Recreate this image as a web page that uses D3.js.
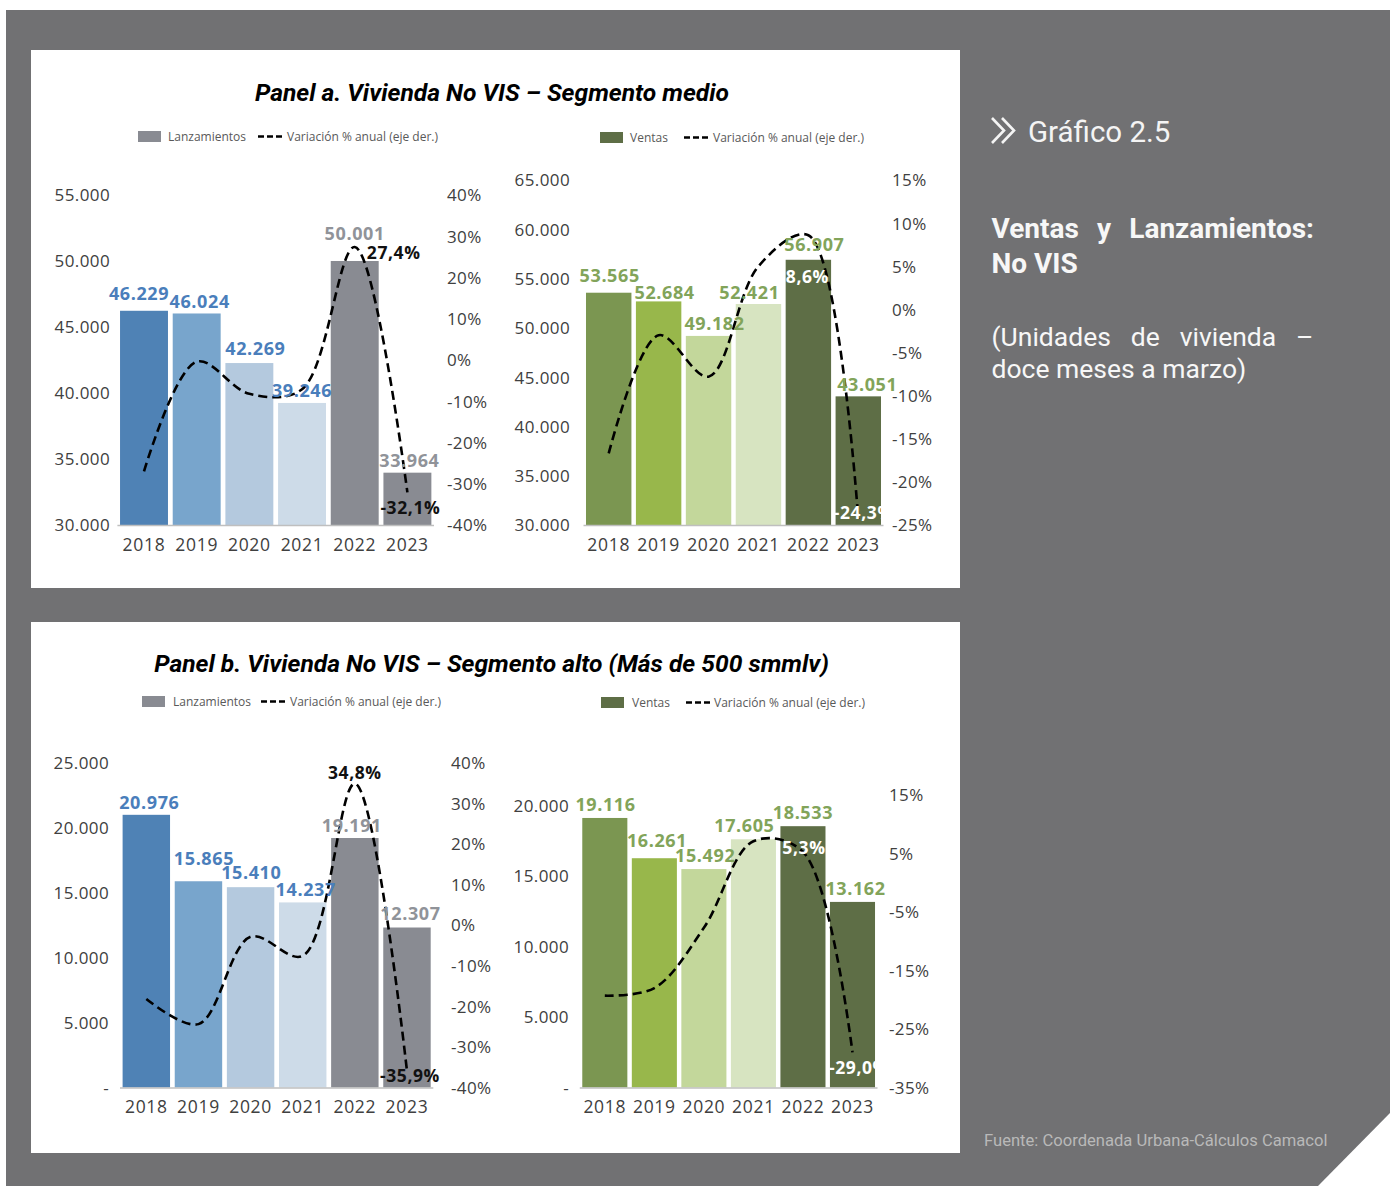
<!DOCTYPE html>
<html>
<head>
<meta charset="utf-8">
<script src="https://cdn.jsdelivr.net/npm/d3@7"></script>
<style>
  body { margin: 0; background: #fff; }
  svg { display: block; }
</style>
</head>
<body>
<svg id="fig" width="1397" height="1186"></svg>
<script>
// ---------- data ----------
const years = ["2018", "2019", "2020", "2021", "2022", "2023"];

// Panel a: segmento medio
const lanzMedio = [46229, 46024, 42269, 39246, 50001, 33964];
const lanzMedioVar = [-27.0, -0.4, -8.2, -7.1, 27.4, -32.1];
const ventasMedio = [53565, 52684, 49182, 52421, 56907, 43051];
const ventasMedioVar = [-16.7, -3.0, -7.8, 5.0, 8.6, -24.3];

// Panel b: segmento alto
const lanzAlto = [20976, 15865, 15410, 14237, 19191, 12307];
const lanzAltoVar = [-18.2, -24.4, -2.9, -7.6, 34.8, -35.9];
const ventasAlto = [19116, 16261, 15492, 17605, 18533, 13162];
const ventasAltoVar = [-19.3, -18.0, -7.7, 7.1, 5.3, -29.0];

// axis ticks
const ticksLanzMedio = [30000, 35000, 40000, 45000, 50000, 55000];
const pctLanzMedio = [-40, -30, -20, -10, 0, 10, 20, 30, 40];
const ticksVentasMedio = [30000, 35000, 40000, 45000, 50000, 55000, 60000, 65000];
const pctVentasMedio = [-25, -20, -15, -10, -5, 0, 5, 10, 15];
const ticksLanzAlto = [0, 5000, 10000, 15000, 20000, 25000];
const pctLanzAlto = [-40, -30, -20, -10, 0, 10, 20, 30, 40];
const ticksVentasAlto = [0, 5000, 10000, 15000, 20000];
const pctVentasAlto = [-35, -25, -15, -5, 5, 15];

// ---------- styles ----------
const lanzColors = ["#4f82b5", "#78a5cc", "#b4c9de", "#cddbe8", "#898b92", "#898b92"];
const lanzLabelColors = ["#4a7ebb", "#4a7ebb", "#4a7ebb", "#4a7ebb", "#909399", "#909399"];
const ventasColors = ["#7b9651", "#98b74b", "#c3d79b", "#d7e4c1", "#5e6e46", "#5e6e46"];
const ventasLabelColors = ["#82a45a", "#82a45a", "#82a45a", "#82a45a", "#82a45a", "#82a45a"];
const GREY_BG = "#717173";
const TICK_COLOR = "#404040";
const CHART_FONT = "'Open Sans', 'DejaVu Sans', sans-serif";
const SIDE_FONT = "Roboto, 'Open Sans', sans-serif";

const loc = d3.formatLocale({ decimal: ",", thousands: ".", grouping: [3], currency: ["$", ""], minus: "-" });
const fmtInt = loc.format(",d");
const fmtPct = v => loc.format(".1f")(v) + "%";
const fmtLeft = v => v === 0 ? "-" : fmtInt(v);
const fmtRight = v => v + "%";

const svg = d3.select("#fig");

// ---------- frame ----------
svg.append("polygon")
  .attr("points", [[6, 10], [1390, 10], [1390, 1113], [1318, 1186], [6, 1186]].map(p => p.join(",")).join(" "))
  .attr("fill", GREY_BG);
svg.append("rect").attr("x", 31).attr("y", 50).attr("width", 929).attr("height", 538).attr("fill", "#fff");
svg.append("rect").attr("x", 31).attr("y", 622).attr("width", 929).attr("height", 531).attr("fill", "#fff");

// panel titles
const titles = [
  { text: "Panel a. Vivienda No VIS – Segmento medio", x: 492, y: 101 },
  { text: "Panel b. Vivienda No VIS – Segmento alto (Más de 500 smmlv)", x: 491.5, y: 672 }
];
svg.selectAll("text.title").data(titles).join("text")
  .attr("class", "title")
  .attr("x", d => d.x).attr("y", d => d.y)
  .attr("text-anchor", "middle")
  .style("font-family", SIDE_FONT).style("font-weight", 700).style("font-style", "italic")
  .style("font-size", "24.6px").attr("fill", "#000")
  .text(d => d.text);

// ---------- chart definitions ----------
const charts = [
  {
    id: "lanzMedio", values: lanzMedio, change: lanzMedioVar,
    leftDomain: [30000, 55000], leftTicks: ticksLanzMedio, yRangeL: [525, 195],
    rightDomain: [-40, 40], rightTicks: pctLanzMedio, yRangeR: [525, 195],
    xRange: [117.4, 434], leftLabelX: 110, rightLabelX: 447, yearY: 545,
    barColors: lanzColors, labelColors: lanzLabelColors,
    labelNudge: [[-5, -17], [3, -12], [6, -14], [0, -12], [0, -27], [2, -12]],
    lineLabels: [{ i: 4, dx: 39, dy: 6, color: "#111" }, { i: 5, dx: 3, dy: 15, color: "#111" }],
    legend: { name: "Lanzamientos", color: "#898b92", rectX: 138, textX: 168, dash: [258, 283], text2X: 287, y: 136.5 }
  },
  {
    id: "ventasMedio", values: ventasMedio, change: ventasMedioVar,
    leftDomain: [30000, 65000], leftTicks: ticksVentasMedio, yRangeL: [525, 180],
    rightDomain: [-25, 15], rightTicks: pctVentasMedio, yRangeR: [525, 180],
    xRange: [583.5, 883.5], leftLabelX: 570, rightLabelX: 892, yearY: 545,
    barColors: ventasColors, labelColors: ventasLabelColors,
    labelNudge: [[1, -17], [6, -9], [6, -12], [-9, -11], [6, -15], [9, -12]],
    lineLabels: [{ i: 4, dx: -1, dy: 42, color: "#fff" }, { i: 5, dx: 5.5, dy: -6, color: "#fff", clip: true }],
    legend: { name: "Ventas", color: "#5e6e46", rectX: 600, textX: 630, dash: [684, 710], text2X: 713, y: 137.5 }
  },
  {
    id: "lanzAlto", values: lanzAlto, change: lanzAltoVar,
    leftDomain: [0, 25000], leftTicks: ticksLanzAlto, yRangeL: [1087.5, 762.5],
    rightDomain: [-40, 40], rightTicks: pctLanzAlto, yRangeR: [1087.5, 762.5],
    xRange: [120, 433.3], leftLabelX: 109, rightLabelX: 451, yearY: 1107,
    barColors: lanzColors, labelColors: lanzLabelColors,
    labelNudge: [[3, -12], [5.5, -23], [0.7, -14], [3, -13], [-3, -12], [3.5, -14]],
    lineLabels: [{ i: 4, dx: 0, dy: -11, color: "#111" }, { i: 5, dx: 3, dy: 5, color: "#111" }],
    legend: { name: "Lanzamientos", color: "#898b92", rectX: 142, textX: 173, dash: [261, 286], text2X: 290, y: 701.5 }
  },
  {
    id: "ventasAlto", values: ventasAlto, change: ventasAltoVar,
    leftDomain: [0, 20000], leftTicks: ticksVentasAlto, yRangeL: [1087.5, 805.5],
    rightDomain: [-35, 15], rightTicks: pctVentasAlto, yRangeR: [1087.5, 795],
    xRange: [579.8, 877.5], leftLabelX: 569, rightLabelX: 889, yearY: 1107,
    barColors: ventasColors, labelColors: ventasLabelColors,
    labelNudge: [[0.7, -13], [2.7, -18], [1.3, -13.4], [-9, -13.3], [0, -13], [3, -13]],
    lineLabels: [{ i: 4, dx: 1, dy: -4, color: "#fff" }, { i: 5, dx: 6.5, dy: 15, color: "#fff", clip: true }],
    legend: { name: "Ventas", color: "#5e6e46", rectX: 601, textX: 632, dash: [686, 710], text2X: 714, y: 702.5 }
  }
];

function drawChart(c) {
  const g = svg.append("g").attr("class", "chart-" + c.id);
  const x = d3.scaleBand().domain(years).range(c.xRange).paddingInner(0.09).paddingOuter(0.05);
  const yL = d3.scaleLinear().domain(c.leftDomain).range(c.yRangeL);
  const yR = d3.scaleLinear().domain(c.rightDomain).range(c.yRangeR);
  const base = yL(c.leftDomain[0]);
  const cx = i => x(years[i]) + x.bandwidth() / 2;

  // bars
  g.selectAll("rect.bar").data(c.values).join("rect")
    .attr("class", "bar")
    .attr("x", (d, i) => x(years[i]))
    .attr("width", x.bandwidth())
    .attr("y", d => yL(d))
    .attr("height", d => base - yL(d))
    .attr("fill", (d, i) => c.barColors[i]);

  // category axis line
  g.append("line")
    .attr("x1", c.xRange[0]).attr("x2", c.xRange[1])
    .attr("y1", base + 0.5).attr("y2", base + 0.5)
    .attr("stroke", "#bfbfbf").attr("stroke-width", 1.5);

  // left axis
  const axL = g.append("g").attr("transform", `translate(${c.leftLabelX},0)`)
    .call(d3.axisLeft(yL).tickValues(c.leftTicks).tickFormat(fmtLeft).tickSize(0).tickPadding(0));
  // right axis
  const axR = g.append("g").attr("transform", `translate(${c.rightLabelX},0)`)
    .call(d3.axisRight(yR).tickValues(c.rightTicks).tickFormat(fmtRight).tickSize(0).tickPadding(0));
  // category labels
  const axB = g.append("g").attr("transform", `translate(0,${c.yearY})`)
    .call(d3.axisBottom(x).tickSize(0).tickPadding(0));
  [axL, axR, axB].forEach(a => {
    a.select(".domain").remove();
    a.selectAll("text")
      .style("font-family", CHART_FONT).style("font-size", "17px")
      .style("letter-spacing", "0.4px")
      .attr("fill", TICK_COLOR)
      .attr("dy", "0.35em");
  });
  axB.selectAll("text").style("font-size", "17.5px").style("letter-spacing", "0.7px");

  // variation line (smoothed)
  const line = d3.line()
    .x((d, i) => cx(i))
    .y(d => yR(d))
    .curve(d3.curveCatmullRom.alpha(0.5));
  g.append("path")
    .datum(c.change)
    .attr("d", line)
    .attr("fill", "none")
    .attr("stroke", "#000")
    .attr("stroke-width", 2.6)
    .attr("stroke-dasharray", "9,5");

  // value labels
  g.selectAll("text.val").data(c.values).join("text")
    .attr("class", "val")
    .attr("x", (d, i) => cx(i) + c.labelNudge[i][0])
    .attr("y", (d, i) => yL(d) + c.labelNudge[i][1])
    .attr("dy", "0.35em")
    .attr("text-anchor", "middle")
    .style("font-family", CHART_FONT).style("font-weight", 700)
    .style("font-size", "18px").style("letter-spacing", "0.6px")
    .attr("fill", (d, i) => c.labelColors[i])
    .text(d => fmtInt(d));

  // variation labels
  const clipId = "clip-" + c.id;
  const lastEnd = x(years[years.length - 1]) + x.bandwidth();
  svg.append("clipPath").attr("id", clipId)
    .append("rect").attr("x", c.xRange[0]).attr("y", 0)
    .attr("width", lastEnd - c.xRange[0]).attr("height", 1186);
  c.lineLabels.forEach(l => {
    g.append("text")
      .attr("x", cx(l.i) + l.dx)
      .attr("y", yR(c.change[l.i]) + l.dy)
      .attr("dy", "0.35em")
      .attr("text-anchor", "middle")
      .attr("clip-path", l.clip ? `url(#${clipId})` : null)
      .style("font-family", CHART_FONT).style("font-weight", 700)
      .style("font-size", "17.5px").style("letter-spacing", "0.6px")
      .attr("fill", l.color)
      .text(fmtPct(c.change[l.i]));
  });

  // legend
  const L = c.legend;
  const lg = g.append("g").attr("class", "legend");
  lg.append("rect").attr("x", L.rectX).attr("y", L.y - 5.5).attr("width", 23).attr("height", 11).attr("fill", L.color);
  lg.append("text").attr("x", L.textX).attr("y", L.y).attr("dy", "0.35em")
    .style("font-family", CHART_FONT).style("font-size", "12px").attr("fill", "#595959")
    .text(L.name);
  lg.append("line").attr("x1", L.dash[0]).attr("x2", L.dash[1]).attr("y1", L.y).attr("y2", L.y)
    .attr("stroke", "#000").attr("stroke-width", 2.4).attr("stroke-dasharray", "6,3");
  lg.append("text").attr("x", L.text2X).attr("y", L.y).attr("dy", "0.35em")
    .style("font-family", CHART_FONT).style("font-size", "12px").attr("fill", "#595959")
    .text("Variación % anual (eje der.)");
}

charts.forEach(drawChart);

// ---------- side panel ----------
const side = svg.append("g").attr("class", "side");
[[992, 1004], [1002, 1014]].forEach(([x0, x1]) => {
  side.append("polyline")
    .attr("points", `${x0},118 ${x1},130.5 ${x0},143`)
    .attr("fill", "none").attr("stroke", "#f4f4f4").attr("stroke-width", 2.6);
});
side.append("text").attr("x", 1028).attr("y", 142)
  .style("font-family", SIDE_FONT).style("font-size", "29.5px").attr("fill", "#f4f4f4")
  .text("Gráfico 2.5");

function justifyLine(words, x0, x1, y, size, weight) {
  const nodes = words.map(w => side.append("text").attr("y", y)
    .style("font-family", SIDE_FONT).style("font-size", size + "px").style("font-weight", weight)
    .attr("fill", "#f7f7f7").text(w));
  const widths = nodes.map(n => n.node().getComputedTextLength());
  const gap = (x1 - x0 - d3.sum(widths)) / (words.length - 1);
  let cx = x0;
  nodes.forEach((n, i) => { n.attr("x", cx); cx += widths[i] + gap; });
}
justifyLine(["Ventas", "y", "Lanzamientos:"], 991.5, 1314, 238, 28, 700);
side.append("text").attr("x", 991.5).attr("y", 273)
  .style("font-family", SIDE_FONT).style("font-size", "28px").style("font-weight", 700)
  .attr("fill", "#f7f7f7").text("No VIS");
justifyLine(["(Unidades", "de", "vivienda", "–"], 991.5, 1313.5, 346, 26.5, 400);
side.append("text").attr("x", 991.5).attr("y", 377.5)
  .style("font-family", SIDE_FONT).style("font-size", "26.5px")
  .attr("fill", "#f7f7f7").text("doce meses a marzo)");

side.append("text").attr("x", 984).attr("y", 1146)
  .style("font-family", SIDE_FONT).style("font-size", "16.6px")
  .attr("fill", "#b9b9b9").text("Fuente: Coordenada Urbana-Cálculos Camacol");
</script>
</body>
</html>
